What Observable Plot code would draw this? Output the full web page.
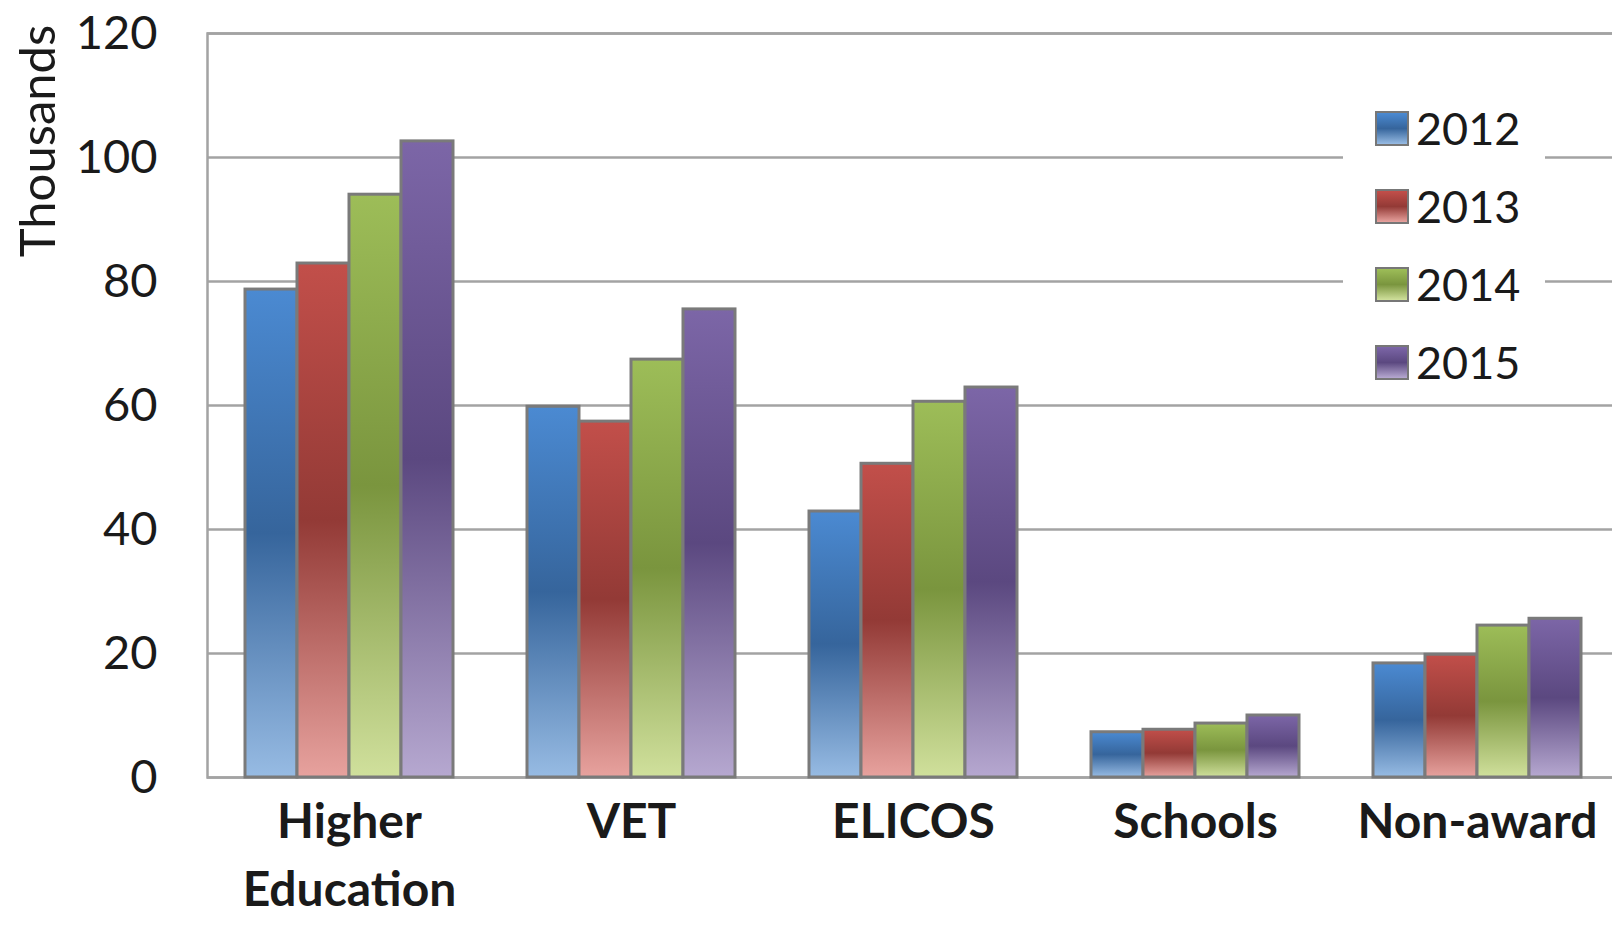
<!DOCTYPE html>
<html>
<head>
<meta charset="utf-8">
<script src="https://cdn.jsdelivr.net/npm/d3@7"></script>
<script src="https://cdn.jsdelivr.net/npm/@observablehq/plot@0.6"></script>
<style>
  html, body { margin: 0; padding: 0; background: #fff; overflow: hidden; }
  #wrap { position: relative; width: 1612px; height: 936px; overflow: hidden; font-family: Lato, "Open Sans", sans-serif; }
  .layer { position: absolute; left: 0; top: 0; width: 1630px; height: 936px; }
  .layer svg { max-width: none !important; }
  #ylabel {
    position: absolute; left: -114px; top: 113px; width: 300px; height: 56px; line-height: 56px;
    text-align: center; font-size: 49px; color: #1a1a1a; transform: rotate(-90deg);
  }
  #legend { position: absolute; left: 1343px; top: 88px; width: 202px; height: 312px; background: #fff; }
  .item { position: absolute; left: 32px; height: 50px; display: flex; align-items: center; }
  .swatch { width: 30px; height: 31px; border: 2px solid #777; box-sizing: content-box; }
  .item span { margin-left: 7px; font-size: 45px; color: #1a1a1a; line-height: 50px; }
</style>
</head>
<body>
<div id="wrap">
  <svg width="0" height="0" style="position:absolute"><defs id="defs"></defs></svg>
  <div id="grid" class="layer"></div>
  <div id="ylabel">Thousands</div>
  <div id="legend"></div>
  <div id="bars" class="layer"></div>
</div>
<script>
// International student enrolments by sector (thousands)
const years = ["2012", "2013", "2014", "2015"];
const categories = ["Higher Education", "VET", "ELICOS", "Schools", "Non-award"];
const values2012 = [78.7, 59.8, 42.9, 7.3, 18.4];
const values2013 = [82.9, 57.4, 50.6, 7.7, 19.8];
const values2014 = [94.0, 67.4, 60.6, 8.7, 24.5];
const values2015 = [102.6, 75.5, 62.9, 10.0, 25.6];
const yTicks = [0, 20, 40, 60, 80, 100, 120];

// Shaded fills: top tone, darker middle, pale bottom
const shades = {
  "2012": ["#4b8ad2", "#36659c", "#97bbe3"],
  "2013": ["#c24f4a", "#933a36", "#e7a29e"],
  "2014": ["#9dbd58", "#7a953e", "#d0e09c"],
  "2015": ["#7c66a7", "#5b4880", "#b6a8d0"]
};

const series = [values2012, values2013, values2014, values2015];
const table = [];
years.forEach((year, i) => {
  categories.forEach((category, j) => {
    table.push({category, year, value: series[i][j]});
  });
});

// gradient definitions
const defs = d3.select("#defs");
years.forEach(year => {
  const g = defs.append("linearGradient")
    .attr("id", `grad-${year}`)
    .attr("x1", 0).attr("y1", 0).attr("x2", 0).attr("y2", 1);
  const [top, mid, bottom] = shades[year];
  g.append("stop").attr("offset", "0%").attr("stop-color", top);
  g.append("stop").attr("offset", "50%").attr("stop-color", mid);
  g.append("stop").attr("offset", "100%").attr("stop-color", bottom);
});

const gridColor = "#a3a3a3";
const frame = {
  width: 1630,
  height: 936,
  marginLeft: 207,
  marginRight: 11,
  marginTop: 33,
  marginBottom: 159,
  style: {fontFamily: "Lato, 'Open Sans', sans-serif", background: "transparent", color: "#1a1a1a", maxWidth: "none"}
};

// background layer: value axis, gridlines and plot border
const gridPlot = Plot.plot({
  ...frame,
  y: {domain: [0, 120], axis: null},
  marks: [
    Plot.ruleY(yTicks, {stroke: gridColor, strokeWidth: 2.5}),
    Plot.frame({stroke: gridColor, strokeWidth: 2.5}),
    Plot.axisY({ticks: yTicks, anchor: "left", tickSize: 0, tickPadding: 50, fontSize: 47, label: null})
  ]
});
document.getElementById("grid").appendChild(gridPlot);

// foreground layer: grouped bars with sector labels
const barPlot = Plot.plot({
  ...frame,
  fx: {domain: categories, paddingInner: 0.264, paddingOuter: 0.131, label: null},
  x: {domain: years, padding: 0, axis: null},
  y: {domain: [0, 120], axis: null},
  color: {domain: years, range: years.map(y => `url(#grad-${y})`)},
  marks: [
    Plot.barY(table, {fx: "category", x: "year", y: "value", fill: "year", stroke: "#7a7a7a", strokeWidth: 3}),
    Plot.axisFx({anchor: "bottom", tickSize: 0, tickPadding: 12, fontSize: 48, fontWeight: "bold",
      lineHeight: 1.42, tickFormat: d => d.replace(" ", "\n"), label: null})
  ]
});
document.getElementById("bars").appendChild(barPlot);

// legend
const legend = document.getElementById("legend");
years.forEach((year, i) => {
  const item = document.createElement("div");
  item.className = "item";
  item.style.top = `${15 + i * 78}px`;
  const sw = document.createElement("div");
  sw.className = "swatch";
  const [top, mid, bottom] = shades[year];
  sw.style.background = `linear-gradient(${top} 0%, ${mid} 50%, ${bottom} 100%)`;
  const label = document.createElement("span");
  label.textContent = year;
  item.appendChild(sw);
  item.appendChild(label);
  legend.appendChild(item);
});
</script>
</body>
</html>
